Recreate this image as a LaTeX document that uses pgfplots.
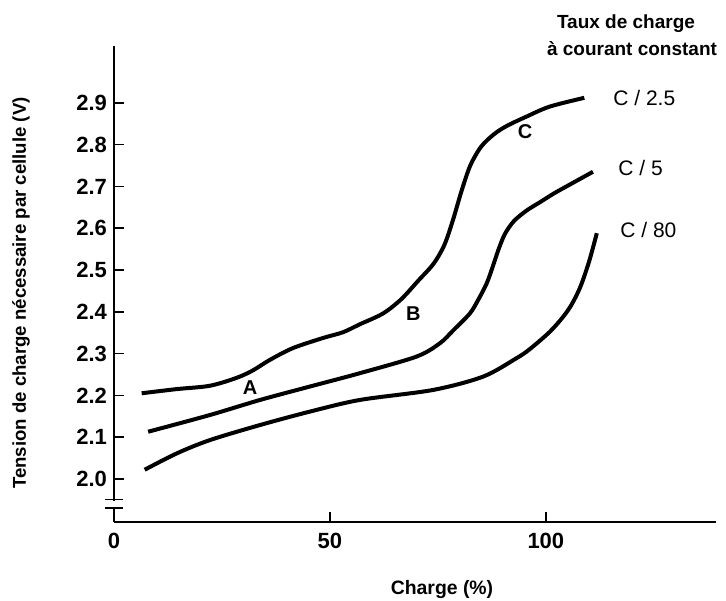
\documentclass[border=0pt]{standalone}
\usepackage{fontspec}
\setmainfont{Liberation Sans}
\usepackage{pgfplots}
\pgfplotsset{compat=1.18}
\pgfplotsset{curve/.style={black, mark=none, line width=2pt, smooth, tension=0.5}}

\begin{document}
\begin{tikzpicture}
\useasboundingbox (0pt,0pt) rectangle (363pt,300pt);
\begin{axis}[
  at={(57pt,39pt)}, anchor=south west,
  scale only axis, width=301pt, height=238pt,
  xmin=0, xmax=139.4, ymin=1.897, ymax=3.036,
  axis x line*=bottom, axis y line*=left,
  axis line style={line width=1pt,-},
  tick align=inside, major tick length=5pt,
  every tick/.style={black,line width=0.8pt},
  xtick={0,50,100}, xticklabels={0,50,100},
  ytick={2.0,2.1,2.2,2.3,2.4,2.5,2.6,2.7,2.8,2.9},
  yticklabels={2.0,2.1,2.2,2.3,2.4,2.5,2.6,2.7,2.8,2.9},
  x tick label style={font=\bfseries\fontsize{11}{13}\selectfont, yshift=-2pt},
  y tick label style={font=\bfseries\fontsize{11}{13}\selectfont},
  clip=false,
]
% C/2.5
\addplot[curve] coordinates {
  (6.4,2.205) (14.5,2.215) (22.2,2.223) (28.4,2.242) (32.2,2.260)
  (36.1,2.285) (41.4,2.313) (48.3,2.337) (53.0,2.351) (56.9,2.370)
  (62.3,2.396) (66.5,2.430) (70.5,2.475) (74.0,2.515) (76.5,2.560)
  (78.5,2.620) (80.5,2.690) (82.5,2.750) (85.0,2.795) (88.0,2.825)
  (91.0,2.845) (95.5,2.867) (100.9,2.891) (108.9,2.912)
};
% C/5
\addplot[curve] coordinates {
  (7.9,2.113) (22.2,2.153) (33.8,2.189) (45.3,2.221) (56.9,2.253)
  (70.1,2.293) (75.5,2.325) (78.5,2.355) (82.4,2.396) (84.3,2.428)
  (86.3,2.468) (87.7,2.508) (89.0,2.548) (90.5,2.586) (92.6,2.617)
  (95.5,2.642) (98.6,2.662) (102.0,2.684) (106.0,2.707) (110.9,2.735)
};
% C/80
\addplot[curve] coordinates {
  (7.1,2.022) (14.5,2.061) (22.2,2.093) (33.8,2.129) (45.3,2.161)
  (56.9,2.189) (73.9,2.213) (85.5,2.245) (93.2,2.289) (96.2,2.310)
  (100.9,2.352) (104.0,2.388) (106.0,2.418) (108.0,2.460) (110.0,2.520)
  (111.8,2.588)
};
\coordinate (bl1) at (axis cs:-2.1,1.951);
\coordinate (br1) at (axis cs:2.1,1.951);
\coordinate (bl2) at (axis cs:-2.1,1.930);
\coordinate (br2) at (axis cs:2.1,1.930);
\coordinate (gw1) at (axis cs:-1.5,1.934);
\coordinate (gw2) at (axis cs:1.5,1.948);
\end{axis}
% broken y axis
\fill[white] (gw1) rectangle (gw2);
\draw[line width=0.9pt] (bl1) -- (br1);
\draw[line width=0.9pt] (bl2) -- (br2);

% labels on curves
\node[font=\bfseries\fontsize{10}{12}\selectfont] at (125pt,106.3pt) {A};
\node[font=\bfseries\fontsize{10}{12}\selectfont] at (206.7pt,143.3pt) {B};
\node[font=\bfseries\fontsize{10}{12}\selectfont] at (262.5pt,234.2pt) {C};

\node[anchor=west, inner sep=0pt, font=\fontsize{10.5}{12}\selectfont] at (306.5pt,251pt) {C / 2.5};
\node[anchor=west, inner sep=0pt, font=\fontsize{10.5}{12}\selectfont] at (309pt,216pt) {C / 5};
\node[anchor=west, inner sep=0pt, font=\fontsize{10.5}{12}\selectfont] at (310pt,185pt) {C / 80};

\node[font=\bfseries\fontsize{9.5}{11}\selectfont] at (313pt,288pt) {Taux de charge};
\node[font=\bfseries\fontsize{9.5}{11}\selectfont] at (316pt,275.5pt) {à courant constant};

\node[rotate=90, font=\bfseries\fontsize{9.3}{11}\selectfont] at (10.5pt,153.5pt) {Tension de charge nécessaire par cellule (V)};
\node[font=\bfseries\fontsize{9.7}{11}\selectfont] at (221pt,5pt) {Charge (\%)};
\end{tikzpicture}
\end{document}
